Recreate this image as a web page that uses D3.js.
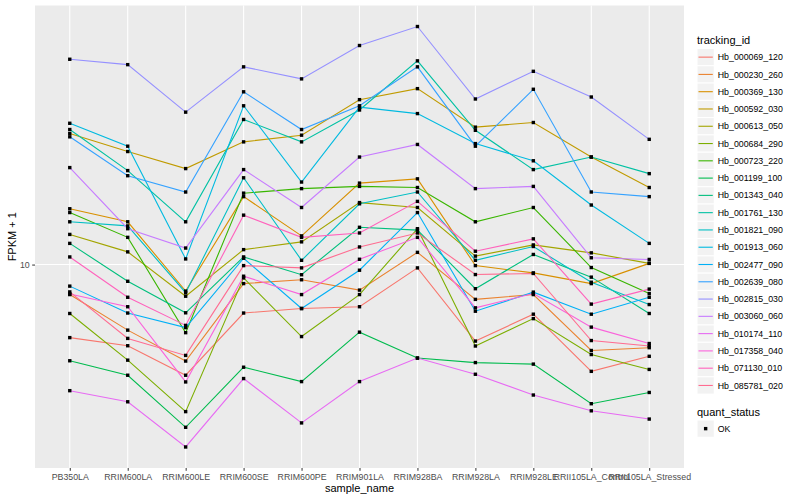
<!DOCTYPE html>
<html>
<head>
<meta charset="utf-8">
<script src="https://cdn.jsdelivr.net/npm/d3@7"></script>
<style>
  body { margin: 0; background: #fff; }
  text { font-family: "Liberation Sans", Arial, sans-serif; }
</style>
</head>
<body>
<div id="chart"></div>
<script>
// sample order on the x axis
var samples = ["PB350LA", "RRIM600LA", "RRIM600LE", "RRIM600SE", "RRIM600PE", "RRIM901LA",
  "RRIM928BA", "RRIM928LA", "RRIM928LE", "RRII105LA_Control", "RRII105LA_Stressed"];

var trackingIds = ["Hb_000069_120", "Hb_000230_260", "Hb_000369_130", "Hb_000592_030", "Hb_000613_050",
  "Hb_000684_290", "Hb_000723_220", "Hb_001199_100", "Hb_001343_040", "Hb_001761_130",
  "Hb_001821_090", "Hb_001913_060", "Hb_002477_090", "Hb_002639_080", "Hb_002815_030",
  "Hb_003060_060", "Hb_010174_110", "Hb_017358_040", "Hb_071130_010", "Hb_085781_020"];

// FPKM + 1, one value per sample
var hb_000069_120 = [6.56, 6.26, 5.28, 7.56, 7.76, 7.84, 9.81, 6.43, 7.51, 5.40, 5.89];
var hb_000230_260 = [8.41, 6.85, 5.73, 8.96, 9.16, 8.63, 10.73, 8.18, 8.41, 6.09, 6.19];
var hb_000369_130 = [13.8, 12.8, 8.58, 14.8, 11.8, 16.0, 16.4, 9.94, 9.53, 8.96, 10.07];
var hb_000592_030 = [21.3, 19.2, 17.4, 20.3, 21.1, 25.9, 27.6, 22.1, 22.7, 18.6, 15.6];
var hb_000613_050 = [11.9, 10.76, 8.33, 10.9, 11.4, 14.3, 13.9, 10.5, 11.2, 10.7, 10.07];
var hb_000684_290 = [7.54, 5.76, 4.28, 9.26, 6.60, 8.41, 12.3, 6.25, 7.32, 5.95, 5.46];
var hb_000723_220 = [13.5, 11.7, 6.75, 15.1, 15.5, 15.7, 15.6, 12.8, 13.9, 9.83, 8.46];
var hb_001199_100 = [5.74, 5.28, 3.91, 5.53, 5.09, 6.77, 5.83, 5.68, 5.63, 4.48, 4.78];
var hb_001343_040 = [11.3, 9.08, 7.57, 10.45, 9.43, 12.4, 12.2, 8.70, 10.6, 9.30, 7.54];
var hb_001761_130 = [21.8, 17.2, 12.8, 23.1, 20.3, 24.4, 32.4, 21.7, 17.3, 18.6, 16.9];
var hb_001821_090 = [12.8, 12.5, 8.50, 16.5, 10.25, 14.2, 15.2, 10.25, 11.1, 9.03, 7.94];
var hb_001913_060 = [22.6, 19.8, 10.33, 25.0, 16.1, 24.8, 23.9, 20.1, 18.2, 14.1, 11.3];
var hb_002477_090 = [8.83, 7.56, 6.95, 10.37, 7.76, 9.68, 13.5, 7.64, 8.53, 7.51, 8.28];
var hb_002639_080 = [20.9, 16.7, 15.2, 27.1, 21.8, 25.0, 31.3, 19.8, 27.5, 15.2, 14.8];
var hb_002815_030 = [32.7, 31.7, 24.1, 31.3, 29.2, 35.4, 39.5, 26.0, 30.5, 26.3, 20.6];
var hb_003060_060 = [17.5, 12.3, 11.0, 17.3, 13.9, 18.6, 20.0, 15.5, 15.7, 10.4, 10.3];
var hb_010174_110 = [4.83, 4.53, 3.49, 5.18, 4.01, 5.09, 5.83, 5.31, 4.71, 4.30, 4.10];
var hb_017358_040 = [8.44, 7.84, 5.08, 9.35, 8.41, 10.31, 11.7, 7.79, 8.46, 6.97, 6.34];
var hb_071130_010 = [10.45, 8.28, 7.04, 13.3, 11.7, 12.0, 14.4, 10.8, 11.6, 7.96, 8.68];
var hb_085781_020 = [8.54, 6.53, 5.92, 9.94, 9.81, 11.07, 12.0, 9.44, 9.50, 6.45, 6.25];

var yTicks = [10];
var quantStatus = ["OK"];

var seriesValues = [hb_000069_120, hb_000230_260, hb_000369_130, hb_000592_030, hb_000613_050,
  hb_000684_290, hb_000723_220, hb_001199_100, hb_001343_040, hb_001761_130,
  hb_001821_090, hb_001913_060, hb_002477_090, hb_002639_080, hb_002815_030,
  hb_003060_060, hb_010174_110, hb_017358_040, hb_071130_010, hb_085781_020];

// ggplot hue palette, 20 levels
var palette = ["#F8766D", "#EA8331", "#D89000", "#C09B00", "#A3A500", "#7CAE00", "#39B600", "#00BB4E",
  "#00BF7D", "#00C1A3", "#00BFC4", "#00BAE0", "#00B0F6", "#35A2FF", "#9590FF", "#C77CFF",
  "#E76BF3", "#FA62DB", "#FF62BC", "#FF6C91"];

var W = 800, H = 500;
var panel = {left: 35, right: 684, top: 5.5, bottom: 468};

var svg = d3.select("#chart").append("svg")
  .attr("width", W)
  .attr("height", H);

var series = trackingIds.map(function(id, i) {
  return {id: id, color: palette[i], values: seriesValues[i].map(function(v, j) {
    return {sample: samples[j], value: v};
  })};
});

var x = d3.scalePoint()
  .domain(samples)
  .range([panel.left, panel.right])
  .padding(0.6);

// log scale, expanded 5% each side like ggplot
var all = d3.merge(seriesValues);
var ext = d3.extent(all).map(Math.log10);
var pad = (ext[1] - ext[0]) * 0.05;
var y = d3.scaleLog()
  .domain([Math.pow(10, ext[0] - pad), Math.pow(10, ext[1] + pad)])
  .range([panel.bottom, panel.top]);

// panel
svg.append("rect")
  .attr("x", panel.left).attr("y", panel.top)
  .attr("width", panel.right - panel.left)
  .attr("height", panel.bottom - panel.top)
  .attr("fill", "#EBEBEB");

svg.append("g").selectAll("line")
  .data(samples).enter().append("line")
  .attr("x1", function(d) { return x(d); })
  .attr("x2", function(d) { return x(d); })
  .attr("y1", panel.top).attr("y2", panel.bottom)
  .attr("stroke", "#fff").attr("stroke-width", 1.1);

svg.append("g").selectAll("line")
  .data(yTicks).enter().append("line")
  .attr("x1", panel.left).attr("x2", panel.right)
  .attr("y1", function(d) { return y(d); })
  .attr("y2", function(d) { return y(d); })
  .attr("stroke", "#fff").attr("stroke-width", 1.1);

// axes
var xAxis = svg.append("g")
  .attr("transform", "translate(0," + panel.bottom + ")")
  .call(d3.axisBottom(x).tickSize(2.8).tickPadding(2.5));
var yAxis = svg.append("g")
  .attr("transform", "translate(" + panel.left + ",0)")
  .call(d3.axisLeft(y).tickValues(yTicks).tickFormat(d3.format("d")).tickSize(2.8).tickPadding(2.5));
[xAxis, yAxis].forEach(function(g) {
  g.select(".domain").remove();
  g.selectAll(".tick line").attr("stroke", "#333");
  g.selectAll(".tick text").attr("fill", "#4D4D4D")
    .style("font-size", "8.8px")
    .style("font-family", "'Liberation Sans', Arial, sans-serif");
});

svg.append("text")
  .attr("x", (panel.left + panel.right) / 2).attr("y", 492)
  .attr("text-anchor", "middle")
  .style("font-size", "11px")
  .text("sample_name");

svg.append("text")
  .attr("transform", "translate(16," + ((panel.top + panel.bottom) / 2) + ") rotate(-90)")
  .attr("text-anchor", "middle")
  .style("font-size", "11px")
  .text("FPKM + 1");

// lines then points
var line = d3.line()
  .x(function(d) { return x(d.sample); })
  .y(function(d) { return y(d.value); });

svg.append("g").selectAll("path")
  .data(series).enter().append("path")
  .attr("d", function(d) { return line(d.values); })
  .attr("fill", "none")
  .attr("stroke", function(d) { return d.color; })
  .attr("stroke-width", 1.1);

var ps = 3.4;
svg.append("g").selectAll("rect")
  .data(d3.merge(series.map(function(s) { return s.values; })))
  .enter().append("rect")
  .attr("x", function(d) { return x(d.sample) - ps / 2; })
  .attr("y", function(d) { return y(d.value) - ps / 2; })
  .attr("width", ps).attr("height", ps)
  .attr("fill", "#000");

// legend
var lx = 697, key = 17.28;
var leg = svg.append("g");
leg.append("text").attr("x", lx).attr("y", 44)
  .style("font-size", "11px").text("tracking_id");

var items = leg.selectAll("g.item")
  .data(series).enter().append("g")
  .attr("transform", function(d, i) { return "translate(" + lx + "," + (48.5 + i * key) + ")"; });
items.append("rect")
  .attr("width", key).attr("height", key)
  .attr("fill", "#F2F2F2").attr("stroke", "#fff").attr("stroke-width", 1);
items.append("line")
  .attr("x1", 1.5).attr("x2", key - 1.5)
  .attr("y1", key / 2).attr("y2", key / 2)
  .attr("stroke", function(d) { return d.color; })
  .attr("stroke-width", 1.1);
items.append("text")
  .attr("x", key + 3.5).attr("y", key / 2 + 3.1)
  .style("font-size", "8.8px")
  .text(function(d) { return d.id; });

leg.append("text").attr("x", lx).attr("y", 416)
  .style("font-size", "11px").text("quant_status");
var qs = leg.selectAll("g.qs")
  .data(quantStatus).enter().append("g")
  .attr("transform", function(d, i) { return "translate(" + lx + "," + (420 + i * key) + ")"; });
qs.append("rect")
  .attr("width", key).attr("height", key)
  .attr("fill", "#F2F2F2").attr("stroke", "#fff");
qs.append("rect")
  .attr("x", key / 2 - ps / 2).attr("y", key / 2 - ps / 2)
  .attr("width", ps).attr("height", ps).attr("fill", "#000");
qs.append("text")
  .attr("x", key + 3.5).attr("y", key / 2 + 3.1)
  .style("font-size", "8.8px")
  .text(function(d) { return d; });
</script>
</body>
</html>
